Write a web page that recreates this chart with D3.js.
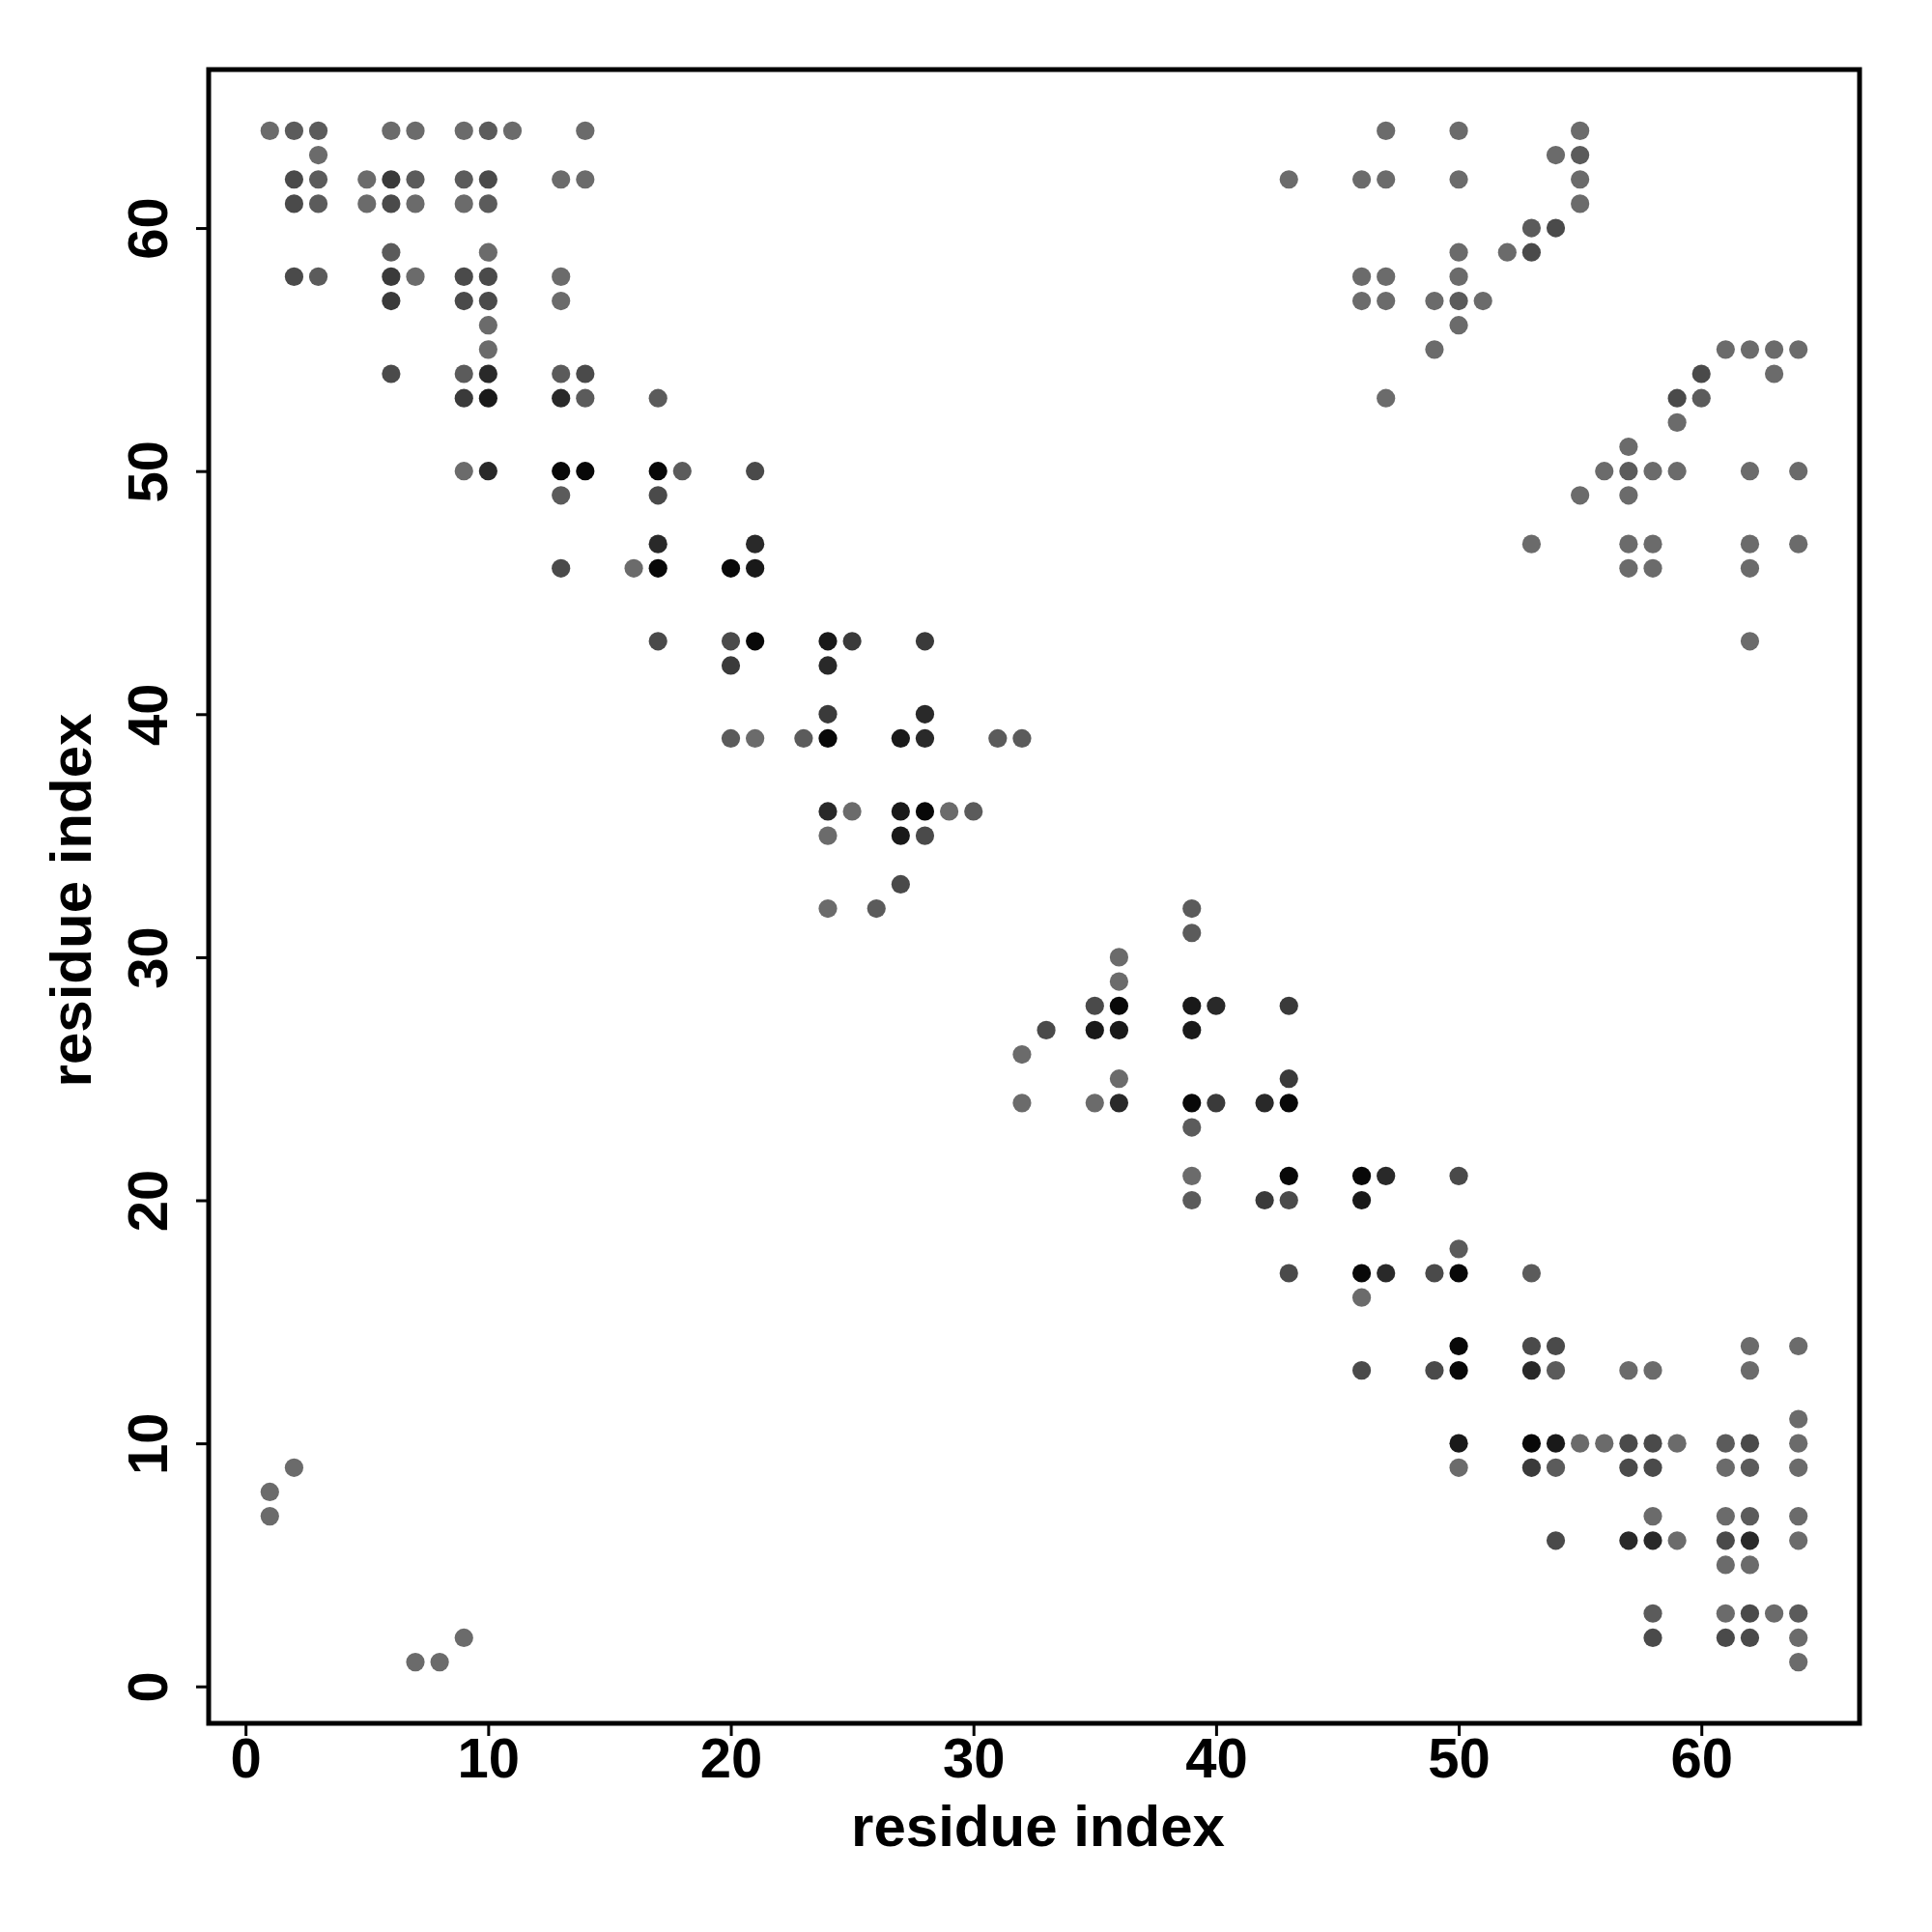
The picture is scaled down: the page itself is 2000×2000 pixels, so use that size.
<!DOCTYPE html>
<html>
<head>
<meta charset="utf-8">
<script src="https://cdn.jsdelivr.net/npm/d3@7"></script>
<style>
  html, body { margin: 0; padding: 0; background: #ffffff; }
  svg { display: block; }
  text { font-family: "Liberation Sans", Arial, Helvetica, sans-serif; font-weight: bold; }
</style>
</head>
<body>
<svg id="chart" width="2000" height="2000"></svg>
<script>
// ---- data: contact map (residue i, residue j, contact strength level 0..6) ----
const residueI = [
  1,2,3,6,7,9,10,11,14,
  3,
  2,3,5,6,7,9,10,13,14,
  2,3,5,6,7,9,10,
  6,10,
  2,3,6,7,9,10,13,
  6,9,10,13,
  10,10,
  6,9,10,13,14,
  9,10,13,14,17,
  9,10,13,14,17,18,21,
  13,17,
  17,21,
  13,16,17,20,21,
  17,20,21,24,25,28,
  20,24,
  24,28,
  20,21,23,24,27,28,31,32,
  24,25,27,28,29,30,
  24,27,28,
  27,
  24,26,39,
  39,
  36,36,
  35,36,39,40,43,
  33,35,36,39,
  32,
  36,43,
  32,35,36,39,40,42,43,
  39,
  39,43,46,47,50,
  39,42,43,46,
  50,
  43,46,47,49,50,53,
  46,
  50,53,54,62,64,
  46,49,50,53,54,57,58,62,
  64,
  50,53,54,55,56,57,58,59,61,62,64,
  2,50,53,54,57,58,61,62,64,
  1,
  1,58,61,62,64,
  54,57,58,59,61,62,64,
  61,62,
  58,61,62,63,64,
  9,58,61,62,64,
  7,8,64,
  47,50,55,
  54,55,
  43,46,47,50,55,
  55,
  53,54,
  50,52,53,
  46,47,50,
  46,47,49,50,51,
  50,
  49,61,62,63,64,
  60,63,
  47,59,60,
  59,
  57,
  56,57,58,59,62,64,
  55,57,
  53,57,58,62,64,
  57,58,62,
  62
];
const residueJ = [
  64,64,64,64,64,64,64,64,64,
  63,
  62,62,62,62,62,62,62,62,62,
  61,61,61,61,61,61,61,
  59,59,
  58,58,58,58,58,58,58,
  57,57,57,57,
  56,55,
  54,54,54,54,54,
  53,53,53,53,53,
  50,50,50,50,50,50,50,
  49,49,
  47,47,
  46,46,46,46,46,
  43,43,43,43,43,43,
  42,42,
  40,40,
  39,39,39,39,39,39,39,39,
  36,36,36,36,36,36,
  35,35,35,
  33,
  32,32,32,
  31,
  30,29,
  28,28,28,28,28,
  27,27,27,27,
  26,
  25,25,
  24,24,24,24,24,24,24,
  23,
  21,21,21,21,21,
  20,20,20,20,
  18,
  17,17,17,17,17,17,
  16,
  14,14,14,14,14,
  13,13,13,13,13,13,13,13,
  11,
  10,10,10,10,10,10,10,10,10,10,10,
  9,9,9,9,9,9,9,9,9,
  8,
  7,7,7,7,7,
  6,6,6,6,6,6,6,
  5,5,
  3,3,3,3,3,
  2,2,2,2,2,
  1,1,1,
  64,64,64,
  63,63,
  62,62,62,62,62,
  61,
  60,60,
  59,59,59,
  58,58,58,
  57,57,57,57,57,
  56,
  55,55,55,55,55,
  54,54,
  53,53,53,
  52,
  51,
  50,50,50,50,50,50,
  49,49,
  47,47,47,47,47,
  46,46,46,
  43
];
const strength = [
  0,1,1,0,0,0,1,0,0,
  0,
  2,1,0,3,1,1,2,0,0,
  2,1,0,2,0,0,1,
  1,0,
  2,1,3,0,2,2,0,
  3,2,2,0,
  0,0,
  2,1,4,1,2,
  3,5,4,1,1,
  0,4,6,6,6,1,2,
  1,2,
  4,4,
  2,0,6,6,5,
  2,2,6,5,3,3,
  3,4,
  3,4,
  1,0,1,6,5,4,1,1,
  4,0,5,6,0,1,
  0,5,2,
  2,
  0,1,1,
  1,
  0,0,
  2,6,5,4,3,
  2,5,5,5,
  0,
  0,3,
  0,0,4,6,3,4,6,
  1,
  0,6,6,4,2,
  1,3,2,5,
  1,
  2,6,4,2,6,1,
  0,
  6,2,2,0,0,
  2,2,6,4,1,0,0,0,
  0,
  5,6,5,0,0,2,2,0,1,2,0,
  0,0,3,1,2,2,0,1,0,
  0,
  0,0,0,1,0,
  2,4,4,0,2,4,0,
  0,0,
  1,0,2,0,1,
  0,2,2,2,0,
  0,0,0,
  0,0,0,
  0,1,
  0,0,0,0,0,
  0,
  1,2,
  0,0,2,
  0,0,0,
  0,0,0,1,0,
  0,
  0,0,0,0,0,
  2,0,
  0,2,1,
  0,
  0,
  0,1,0,0,0,0,
  0,0,
  0,0,0,0,0,
  0,0,0,
  0
];
const xTicks = [0, 10, 20, 30, 40, 50, 60];
const yTicks = [0, 10, 20, 30, 40, 50, 60];
const xLabel = "residue index";
const yLabel = "residue index";

// ---- layout ----
const pLeft = 216, pRight = 1925, pTop = 72, pBottom = 1784;
const svg = d3.select("#chart");

const points = residueI.map((d, k) => ({ i: d, j: residueJ[k], s: strength[k] }));

// R-style 4% expansion of the data range
const ext = d3.extent(residueI.concat(residueJ));
const pad = (ext[1] - ext[0]) * 0.04;
const x = d3.scaleLinear().domain([ext[0] - pad, ext[1] + pad]).range([pLeft, pRight]);
const y = d3.scaleLinear().domain([ext[0] - pad, ext[1] + pad]).range([pBottom, pTop]);
const color = d3.scaleLinear().domain([0, 6]).range(["#6b6b6b", "#080808"]).interpolate(d3.interpolateRgb);

// points
svg.append("g").selectAll("circle")
  .data(points)
  .join("circle")
  .attr("cx", d => x(d.i))
  .attr("cy", d => y(d.j))
  .attr("r", 9.6)
  .attr("fill", d => color(d.s));

// frame
svg.append("rect")
  .attr("x", pLeft).attr("y", pTop)
  .attr("width", pRight - pLeft).attr("height", pBottom - pTop)
  .attr("fill", "none").attr("stroke", "#000").attr("stroke-width", 5);

// x axis
const xAxis = svg.append("g").attr("transform", `translate(0,${pBottom})`)
  .call(d3.axisBottom(x).tickValues(xTicks).tickSize(13).tickFormat(d3.format("d")));
xAxis.select(".domain").remove();
xAxis.selectAll(".tick line").attr("stroke", "#000").attr("stroke-width", 3);
xAxis.selectAll(".tick text").attr("font-size", 58).attr("fill", "#000")
  .attr("dy", null).attr("y", 56);

// y axis
const yAxis = svg.append("g").attr("transform", `translate(${pLeft},0)`)
  .call(d3.axisLeft(y).tickValues(yTicks).tickSize(13).tickFormat(d3.format("d")));
yAxis.select(".domain").remove();
yAxis.selectAll(".tick line").attr("stroke", "#000").attr("stroke-width", 3);
yAxis.selectAll(".tick text")
  .attr("font-size", 58).attr("fill", "#000")
  .attr("x", null).attr("dy", null)
  .attr("text-anchor", "middle")
  .attr("transform", `translate(${173 - pLeft},0) rotate(-90)`);

// axis titles
svg.append("text")
  .attr("x", (pLeft + pRight) / 2 + 4).attr("y", 1911)
  .attr("text-anchor", "middle").attr("font-size", 60).attr("fill", "#000")
  .text(xLabel);
svg.append("text")
  .attr("transform", `translate(94,${(pTop + pBottom) / 2 + 4}) rotate(-90)`)
  .attr("text-anchor", "middle").attr("font-size", 60).attr("fill", "#000")
  .text(yLabel);
</script>
</body>
</html>
